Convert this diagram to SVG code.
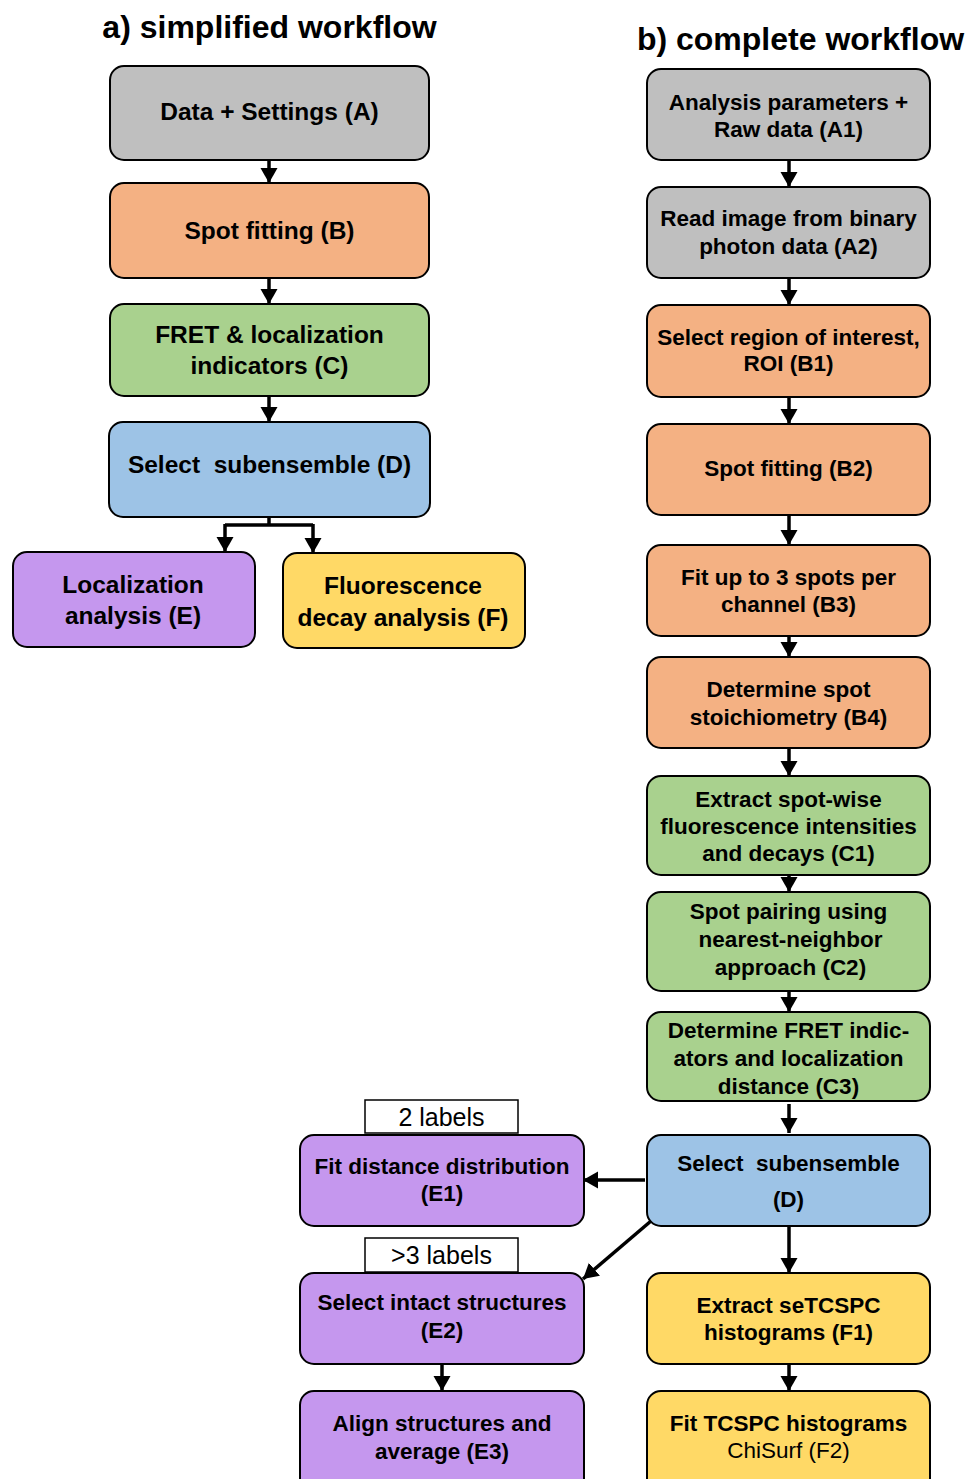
<svg xmlns="http://www.w3.org/2000/svg" width="967" height="1479" viewBox="0 0 967 1479">
<defs>
<marker id="ah" markerUnits="userSpaceOnUse" markerWidth="18" markerHeight="18" viewBox="0 0 18 18" refX="15" refY="9" orient="auto">
<path d="M0,0.5 L15,9 L0,17.5 Z" fill="#000"/>
</marker>
</defs>
<style>
.box{stroke:#000;stroke-width:2}
.gray{fill:#bfbfbf}.org{fill:#f4b183}.grn{fill:#a9d18e}.blu{fill:#9dc3e6}.pur{fill:#c597ee}.yel{fill:#ffd966}
text{font-family:"Liberation Sans",Arial,sans-serif;fill:#000;text-anchor:middle}
.t1{font-size:24.5px;font-weight:bold}
.t2{font-size:22.5px;font-weight:bold}
.tr{font-size:22.5px}
.tt{font-size:32px;font-weight:bold}
.lab{font-size:25px}
.c{fill:none;stroke:#000;stroke-width:3.5}
</style>
<text class="tt" x="269.5" y="38">a) simplified workflow</text>
<text class="tt" x="800.5" y="50">b) complete workflow</text>

<g id="nA"><rect class="box gray" x="110" y="66" width="319" height="94" rx="14"/><text class="t1" x="269.5" y="119.5">Data + Settings (A)</text></g>
<g id="nB"><rect class="box org" x="110" y="183" width="319" height="95" rx="14"/><text class="t1" x="269.5" y="238.5">Spot fitting (B)</text></g>
<g id="nC"><rect class="box grn" x="110" y="304" width="319" height="92" rx="14"/><text class="t1" x="269.5" y="342.5">FRET &amp; localization</text><text class="t1" x="269.5" y="373.5">indicators (C)</text></g>
<g id="nD"><rect class="box blu" x="109" y="422" width="321" height="95" rx="14"/><text class="t1" x="269.5" y="472.5" xml:space="preserve">Select  subensemble (D)</text></g>
<g id="nE"><rect class="box pur" x="13" y="552" width="242" height="95" rx="14"/><text class="t1" x="133" y="592.5">Localization</text><text class="t1" x="133" y="623.5">analysis (E)</text></g>
<g id="nF"><rect class="box yel" x="283" y="553" width="242" height="95" rx="14"/><text class="t1" x="403" y="593.5">Fluorescence</text><text class="t1" x="403" y="625.5">decay analysis (F)</text></g>

<g id="nA1"><rect class="box gray" x="647" y="69" width="283" height="91" rx="14"/><text class="t2" x="788.5" y="110">Analysis parameters +</text><text class="t2" x="788.5" y="137">Raw data (A1)</text></g>
<g id="nA2"><rect class="box gray" x="647" y="187" width="283" height="91" rx="14"/><text class="t2" x="788.5" y="226">Read image from binary</text><text class="t2" x="788.5" y="254">photon data (A2)</text></g>
<g id="nB1"><rect class="box org" x="647" y="305" width="283" height="92" rx="14"/><text class="t2" x="788.5" y="345">Select region of interest,</text><text class="t2" x="788.5" y="371">ROI (B1)</text></g>
<g id="nB2"><rect class="box org" x="647" y="424" width="283" height="91" rx="14"/><text class="t2" x="788.5" y="476">Spot fitting (B2)</text></g>
<g id="nB3"><rect class="box org" x="647" y="545" width="283" height="91" rx="14"/><text class="t2" x="788.5" y="585">Fit up to 3 spots per</text><text class="t2" x="788.5" y="612">channel (B3)</text></g>
<g id="nB4"><rect class="box org" x="647" y="657" width="283" height="91" rx="14"/><text class="t2" x="788.5" y="697">Determine spot</text><text class="t2" x="788.5" y="725">stoichiometry (B4)</text></g>
<g id="nC1"><rect class="box grn" x="647" y="776" width="283" height="99" rx="14"/><text class="t2" x="788.5" y="807">Extract spot-wise</text><text class="t2" x="788.5" y="834">fluorescence intensities</text><text class="t2" x="788.5" y="861">and decays (C1)</text></g>
<g id="nC2"><rect class="box grn" x="647" y="892" width="283" height="99" rx="14"/><text class="t2" x="788.5" y="919">Spot pairing using</text><text class="t2" x="790.5" y="947">nearest-neighbor</text><text class="t2" x="790.5" y="975">approach (C2)</text></g>
<g id="nC3"><rect class="box grn" x="647" y="1012" width="283" height="89" rx="14"/><text class="t2" x="788.5" y="1038">Determine FRET indic-</text><text class="t2" x="788.5" y="1066">ators and localization</text><text class="t2" x="788.5" y="1094">distance (C3)</text></g>
<g id="nD2"><rect class="box blu" x="647" y="1135" width="283" height="91" rx="14"/><text class="t2" x="788.5" y="1171" xml:space="preserve">Select  subensemble</text><text class="t2" x="788.5" y="1207">(D)</text></g>
<g id="nF1"><rect class="box yel" x="647" y="1273" width="283" height="91" rx="14"/><text class="t2" x="788.5" y="1313">Extract seTCSPC</text><text class="t2" x="788.5" y="1340">histograms (F1)</text></g>
<g id="nF2"><rect class="box yel" x="647" y="1391" width="283" height="110" rx="14"/><text class="t2" x="788.5" y="1431">Fit TCSPC histograms</text><text class="tr" x="788.5" y="1458">ChiSurf (F2)</text></g>
<g id="nE1"><rect class="box pur" x="300" y="1135" width="284" height="91" rx="14"/><text class="t2" x="442" y="1174">Fit distance distribution</text><text class="t2" x="442" y="1201">(E1)</text></g>
<g id="nE2"><rect class="box pur" x="300" y="1273" width="284" height="91" rx="14"/><text class="t2" x="442" y="1310">Select intact structures</text><text class="t2" x="442" y="1338">(E2)</text></g>
<g id="nE3"><rect class="box pur" x="300" y="1391" width="284" height="110" rx="14"/><text class="t2" x="442" y="1431">Align structures and</text><text class="t2" x="442" y="1459">average (E3)</text></g>
<g id="l2"><rect x="365" y="1100" width="153" height="33" fill="#fff" stroke="#000" stroke-width="1.5"/><text class="lab" x="441.5" y="1126">2 labels</text></g>
<g id="l3"><rect x="365" y="1238" width="153" height="34" fill="#fff" stroke="#000" stroke-width="1.5"/><text class="lab" x="441.5" y="1264">&gt;3 labels</text></g>

<g id="connectors">
<path class="c" d="M269,161 V183" marker-end="url(#ah)"/>
<path class="c" d="M269,279 V304" marker-end="url(#ah)"/>
<path class="c" d="M269,397 V422" marker-end="url(#ah)"/>
<path class="c" d="M269,518 V525" />
<path class="c" d="M225,525 H313" />
<path class="c" d="M225,524 V552" marker-end="url(#ah)"/>
<path class="c" d="M313,524 V553" marker-end="url(#ah)"/>
<path class="c" d="M789,161 V187" marker-end="url(#ah)"/>
<path class="c" d="M789,279 V305" marker-end="url(#ah)"/>
<path class="c" d="M789,398 V424" marker-end="url(#ah)"/>
<path class="c" d="M789,516 V545" marker-end="url(#ah)"/>
<path class="c" d="M789,637 V657" marker-end="url(#ah)"/>
<path class="c" d="M789,749 V776" marker-end="url(#ah)"/>
<path class="c" d="M789,876 V892" marker-end="url(#ah)"/>
<path class="c" d="M789,992 V1012" marker-end="url(#ah)"/>
<path class="c" d="M789,1104 V1133" marker-end="url(#ah)"/>
<path class="c" d="M789,1227 V1273" marker-end="url(#ah)"/>
<path class="c" d="M789,1365 V1391" marker-end="url(#ah)"/>
<path class="c" d="M442,1365 V1391" marker-end="url(#ah)"/>
<path class="c" d="M645,1180 H583" stroke-width="4" marker-end="url(#ah)"/>
<path class="c" d="M651,1221 L583,1279" marker-end="url(#ah)"/>
</g>
</svg>
